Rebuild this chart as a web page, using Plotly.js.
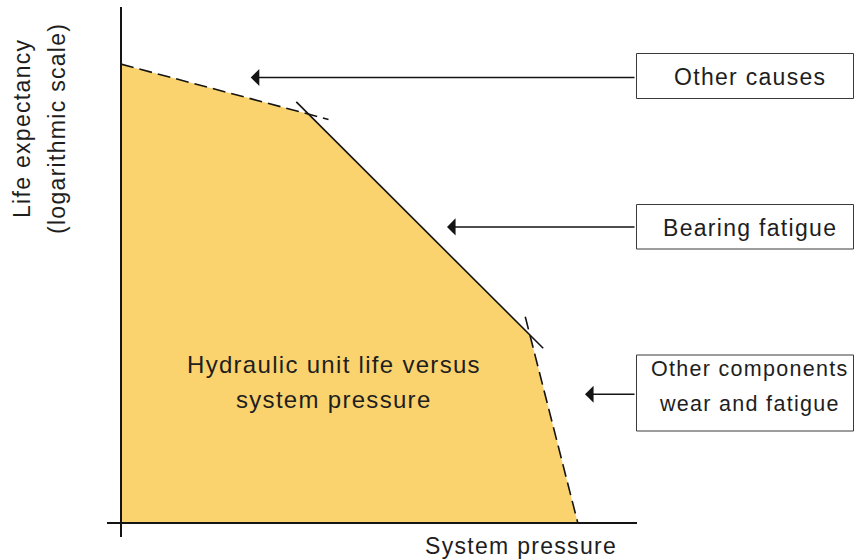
<!DOCTYPE html>
<html>
<head>
<meta charset="utf-8">
<script src="https://cdn.plot.ly/plotly-3.0.1.min.js"></script>
<style>
  html, body { margin: 0; padding: 0; background: #ffffff; }
  #chart { width: 854px; height: 560px; }
  /* slightly tracked lettering for all chart texts */
  svg text { letter-spacing: 1.3px; }
</style>
</head>
<body>
<div id="chart"></div>
<script>
// Hydraulic unit life vs. system pressure (arbitrary 0-100 units on both axes)
const pressure = [0, 36.4, 79.4, 88.7];
const lifeExpectancy = [89.1, 79.4, 36.5, 0];

// Failure regime governing each segment of the curve
const causeLabels = ['Other causes', 'Bearing fatigue', 'Other components<br>wear and fatigue'];
const segmentDash = ['13px,6px', 'solid', '13px,6px'];
// How far each segment is drawn past its start / end kink (fraction of segment length)
const segmentOvershoot = [[0, 0.107], [0.055, 0.06], [0.097, 0]];

// Where each cause arrow points on the chart
const arrowPressure = [25.2, 63.3, 90.1];
const arrowLife = [86.5, 57.5, 25.0];

const chartTitle = ['Hydraulic unit life versus', 'system pressure'];
const xTitle = 'System pressure';
const yTitle = ['Life expectancy', '(logarithmic scale)'];

const INK = '#141414';
const TEXT = '#1e1e1e';
const FILL = '#FAD36E';
const FONT = 'Liberation Sans, Arial, sans-serif';

const traces = [];

// shaded region under the life curve
traces.push({
  x: [0].concat(pressure),
  y: [0].concat(lifeExpectancy),
  mode: 'lines',
  fill: 'toself',
  fillcolor: FILL,
  line: { width: 0, color: FILL },
  hoverinfo: 'skip'
});

// the three curve segments, each slightly overshooting its kink
for (let i = 0; i < pressure.length - 1; i++) {
  const dx = pressure[i + 1] - pressure[i];
  const dy = lifeExpectancy[i + 1] - lifeExpectancy[i];
  const [a, b] = segmentOvershoot[i];
  traces.push({
    x: [pressure[i] - a * dx, pressure[i + 1] + b * dx],
    y: [lifeExpectancy[i] - a * dy, lifeExpectancy[i + 1] + b * dy],
    mode: 'lines',
    line: { color: INK, width: 1.6, dash: segmentDash[i] },
    hoverinfo: 'skip'
  });
}

// plot area spans 515 px square; helpers for paper coordinates from pixel offsets
const L = 121, T = 8, W = 515, H = 515;
const px = v => (v - L) / W;
const py = v => (T + H - v) / H;

const shapes = [
  // axes, crossing slightly at the origin
  { type: 'line', xref: 'paper', yref: 'paper', x0: px(121), x1: px(121), y0: py(537), y1: py(7),
    line: { color: INK, width: 2 } },
  { type: 'line', xref: 'paper', yref: 'paper', x0: px(107), x1: px(637), y0: py(523), y1: py(523),
    line: { color: INK, width: 2 } }
];

// label boxes on the right
const boxTop = [53.5, 204.5, 355];
const boxBottom = [98.5, 249, 431];
for (let i = 0; i < boxTop.length; i++) {
  shapes.push({ type: 'rect', xref: 'paper', yref: 'paper',
    x0: px(636.5), x1: px(853.5), y0: py(boxBottom[i]), y1: py(boxTop[i]),
    line: { color: '#3a3a3a', width: 1 }, fillcolor: 'rgba(0,0,0,0)' });
}

const annotations = [];
const font = (size) => ({ family: FONT, size: size, color: TEXT });

// arrows from each box toward its regime on the curve
for (let i = 0; i < causeLabels.length; i++) {
  annotations.push({
    x: arrowPressure[i], y: arrowLife[i], xref: 'x', yref: 'y',
    ax: 100, ay: arrowLife[i], axref: 'x', ayref: 'y',
    text: '', showarrow: true, arrowhead: 1, arrowsize: 1.9, arrowwidth: 1.5,
    arrowcolor: INK, standoff: 0, startstandoff: 0
  });
}

// box texts, one line per annotation
const boxLineY = [[76.8], [227.5], [369.2, 404]];
const boxFontSize = [23, 23, 21.5];
for (let i = 0; i < causeLabels.length; i++) {
  const lines = causeLabels[i].split('<br>');
  lines.forEach((t, j) => {
    annotations.push({ x: px(749.5), y: py(boxLineY[i][j]), xref: 'paper', yref: 'paper',
      text: t, showarrow: false, xanchor: 'center', yanchor: 'middle', font: font(boxFontSize[i]) });
  });
}

// chart title inside the shaded area
const titleY = [364, 399];
chartTitle.forEach((t, j) => {
  annotations.push({ x: px(334), y: py(titleY[j]), xref: 'paper', yref: 'paper',
    text: t, showarrow: false, xanchor: 'center', yanchor: 'middle', font: font(24) });
});

// axis titles
annotations.push({ x: px(521), y: py(546), xref: 'paper', yref: 'paper', text: xTitle,
  showarrow: false, xanchor: 'center', yanchor: 'middle', font: font(23) });
const yTitleX = [22, 57];
yTitle.forEach((t, j) => {
  annotations.push({ x: px(yTitleX[j]), y: py(129), xref: 'paper', yref: 'paper', text: t,
    textangle: -90, showarrow: false, xanchor: 'center', yanchor: 'middle', font: font(23) });
});

const hiddenAxis = { range: [0, 100], showgrid: false, zeroline: false, showline: false,
  showticklabels: false, ticks: '', fixedrange: true };

const layout = {
  width: 854, height: 560,
  margin: { l: L, r: 854 - L - W, t: T, b: 560 - T - H, pad: 0 },
  paper_bgcolor: '#ffffff', plot_bgcolor: '#ffffff',
  showlegend: false,
  xaxis: hiddenAxis,
  yaxis: Object.assign({}, hiddenAxis),
  shapes: shapes,
  annotations: annotations,
  font: { family: FONT }
};

Plotly.newPlot('chart', traces, layout, { displayModeBar: false, staticPlot: true });
</script>
</body>
</html>
